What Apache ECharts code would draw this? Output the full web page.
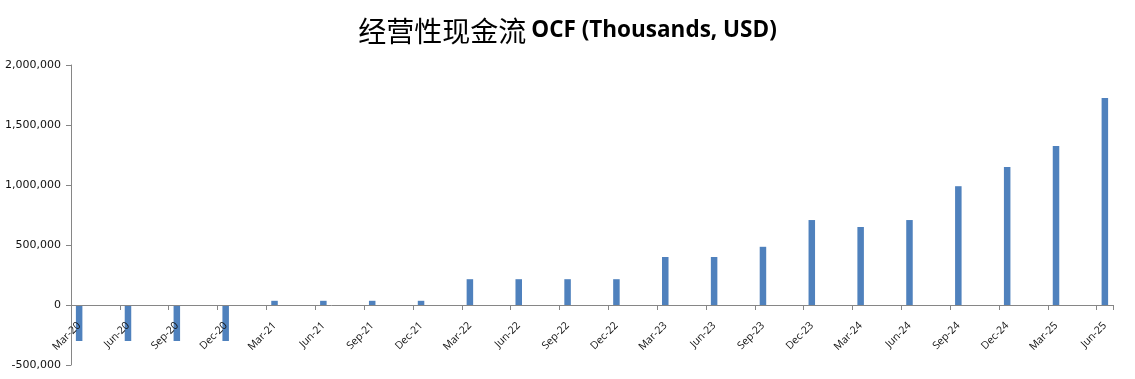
<!DOCTYPE html>
<html>
<head>
<meta charset="utf-8">
<script src="https://cdn.jsdelivr.net/npm/echarts@6/dist/echarts.min.js"></script>
<style>
html,body{margin:0;padding:0;background:#fff;}
#chart{width:1135px;height:379px;}
</style>
</head>
<body>
<div id="chart"></div>
<script>
// Quarter labels (x axis) and operating cash flow values (thousands USD)
var quarters = ['Mar-20','Jun-20','Sep-20','Dec-20','Mar-21','Jun-21','Sep-21','Dec-21',
  'Mar-22','Jun-22','Sep-22','Dec-22','Mar-23','Jun-23','Sep-23','Dec-23',
  'Mar-24','Jun-24','Sep-24','Dec-24','Mar-25','Jun-25'];
var ocf = [-300000,-300000,-300000,-300000,35000,35000,35000,35000,
  215000,215000,215000,215000,400000,400000,485000,708000,
  650000,708000,990000,1150000,1325000,1725000];
var yTicks = [-500000,0,500000,1000000,1500000,2000000];

// Monthly date-style axis: each quarter occupies its month slot followed by two empty months
var monthCats = [], monthVals = [];
quarters.forEach(function(q, i){
  monthCats.push(q); monthVals.push(ocf[i]);
  if (i < quarters.length - 1) {
    monthCats.push(''); monthVals.push(null);
    monthCats.push(''); monthVals.push(null);
  }
});

var gridTop = 65, gridBottom = 14, chartH = 379;
var yMin = yTicks[0], yMax = yTicks[yTicks.length - 1];
// distance from grid bottom to the zero line, so the category axis sits at y = 0
var plotH = chartH - gridTop - gridBottom;
var zeroOffset = -plotH * (0 - yMin) / (yMax - yMin);

var chart = echarts.init(document.getElementById('chart'), null, {renderer:'canvas'});
chart.setOption({
  animation: false,
  backgroundColor: '#fff',
  title: {
    text: '{cn|经营性现金流} {en|OCF (Thousands, USD)}',
    left: 'center',
    top: 12,
    textStyle: {
      rich: {
        cn: {fontFamily: 'Noto Sans CJK SC', fontSize: 28, fontWeight: 'normal', color: '#000'},
        en: {fontFamily: 'Open Sans', fontSize: 22.5, fontWeight: 'bold', color: '#000'}
      }
    }
  },
  grid: {left: 71, right: 22, top: gridTop, bottom: gridBottom, containLabel: false, outerBoundsMode: 'none'},
  xAxis: {
    type: 'category',
    data: monthCats,
    boundaryGap: true,
    position: 'bottom',
    offset: zeroOffset,
    z: 5,
    axisLine: {onZero: false, lineStyle: {color: '#868686', width: 1}},
    axisTick: {show: true, interval: 2, length: 5, lineStyle: {color: '#868686'}},
    axisLabel: {interval: 0, rotate: 45, margin: 19, fontFamily: 'Open Sans', fontSize: 10.5, color: '#111'},
    splitLine: {show: false}
  },
  yAxis: {
    type: 'value',
    min: yMin,
    max: yMax,
    interval: 500000,
    axisLine: {show: true, lineStyle: {color: '#868686'}},
    axisTick: {show: true, length: 5, lineStyle: {color: '#868686'}},
    splitLine: {show: false},
    axisLabel: {
      fontFamily: 'DejaVu Sans', fontSize: 11, color: '#111', margin: 10,
      formatter: function(v){ return v.toLocaleString('en-US'); }
    }
  },
  series: [{
    type: 'bar',
    data: monthVals,
    barWidth: '40%',
    itemStyle: {color: '#4F81BD'}
  }]
});
</script>
</body>
</html>
